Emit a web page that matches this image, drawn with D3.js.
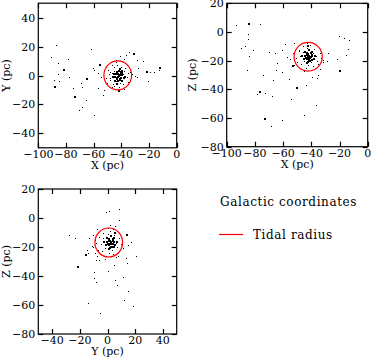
<!DOCTYPE html>
<html>
<head>
<meta charset="utf-8">
<title>Galactic coordinates</title>
<script src="https://d3js.org/d3.v7.min.js"></script>
<style>
  body { margin:0; background:#fff; }
  svg text { font-family:"DejaVu Serif", serif; font-size:11px; fill:#000; }
  svg text.legend { font-size:12px; letter-spacing:0.6px; }
  .frame { fill:none; stroke:#000; stroke-width:1.2px; }
  .tick { stroke:#000; stroke-width:1.2px; }
  .tidal { fill:none; stroke:#f00; stroke-width:1.2px; }
</style>
</head>
<body>
<svg id="chart" width="371" height="358"></svg>
<script>
"use strict";

// tidal radius (pc) and cluster centre
const tidalRadius = 10;
const centreXY = [-42.6, 0.1];
const centreXZ = [-42.2, -17.3];
const centreYZ = [0.9, -16.9];

// X-Y plane
const xyFaint = [
  [-87.5,21],[-91.1,12.5],[-85.6,8.4],[-78.3,11.2],[-86,1],[-88.7,-3.1],[-84.8,-3.6],
  [-77.6,-1.3],[-75.2,-8.9],[-69.2,-5.4],[-68.2,-8.2],[-65.6,-17],[-70.6,-23.9],[-68.2,-22],
  [-59.5,-27.4],[-62.2,18.1],[-59.5,3.8],[-60.7,5],[-57.1,2],[-54.7,-1.3],[-57.1,-8.4],
  [-52.3,-10],[-53.5,-13.5],[-50.6,-5],[-45.1,-7],[-43.9,10.7],[-36.7,14.1],[-34.3,16],
  [-38.1,11.4],[-41,13.5],[-29,10.7],[-27.7,5],[-24.1,10],[-19.3,2.7],[-16.4,2.7],
  [-12.6,3.8],[-20.5,-3.6],[-30.2,-0.3],[-32.6,1],[-33.8,2.7],[-29,-1.3],[-35,-4.3],
  [-48.2,-2],[-48.2,2.7],[-51.1,6.1],[-47,7.3],
  [-44,1],[-43,-1],[-41,2],[-45,3],[-40,-2],[-46,-1],[-42,4],[-39,1],[-44,-4],[-47,2],
  [-38,3],[-41,-5],[-45,6],[-36,-1],[-48,-3],[-43,7],[-39,-6],[-49,1],[-37,5],[-46,-6],
  [-35,2],[-42,-8],[-50,4],[-40,6],[-47,-8],[-34,-3],[-44,9],[-38,-9],[-51,-2],[-36,7]
];
const xyBright = [
  [-81.9,4.3],[-88.7,-7.3],[-74.2,-14.2],[-65.6,-1.5],[-55.9,8],[-42.2,-10],[-31.4,15.8],
  [-22.2,3],[-12.6,6.1],
  [-43,0],[-42,1],[-44,-1],[-41,-1],[-43,2],[-45,0],[-42,-2],[-40,1],[-44,3],[-41,3],
  [-46,2],[-43,-3],[-40,-3],[-45,-3],[-39,-1],[-42,5],[-47,0],[-38,0],[-44,-5],[-40,4],
  [-42.5,0.5],[-43.5,-1.5],[-41.5,-2.5],[-44.5,1.5],[-40.5,2.5],[-42.5,3.5]
];

// X-Z plane
const xzFaint = [
  [-93.4,4.9],[-76.4,5.6],[-84.7,-1.6],[-84.7,-5.1],[-89.9,-11.4],[-87.1,-9.8],[-81.1,-12.6],
  [-84,-16.8],[-85.9,-26.5],[-74,-30],[-78.8,-43.3],[-72.9,-42.8],[-67.7,-44.6],[-67,-33.5],
  [-65.3,-26.5],[-70,-14.2],[-64.6,-21.4],[-61,-27.7],[-60.6,-12.6],[-57.5,-17.2],[-55.9,-33],
  [-54.4,-47],[-52.3,-7.5],[-48.8,-12.6],[-44,-37.2],[-45,-57.9],[-36.9,-51.2],[-68.6,-65.6],
  [-61,-61.4],[-36.2,-31.9],[-39.8,-31.2],[-35,-30],[-33.9,-26],[-27.9,-14.4],[-29.1,-20.2],
  [-31.5,-19.5],[-22,-18.8],[-20.4,-2.6],[-16.6,-4],[-13.1,-5.6],[-15.4,-16],[-13.8,-12.1],
  [-58.7,-8.4],[-65.8,-14.9],
  [-44,-16],[-41,-18],[-46,-14],[-39,-15],[-45,-20],[-40,-21],[-48,-17],[-37,-17],[-43,-11],
  [-42,-23],[-49,-13],[-36,-20],[-47,-22],[-38,-12],[-44,-25],[-51,-18],[-34,-15],[-41,-9],
  [-50,-21],[-35,-22],[-46,-10],[-39,-24],[-53,-15],[-33,-18],[-45,-27],[-52,-23],[-32,-21],
  [-43,-8],[-55,-19],[-38,-26]
];
const xzBright = [
  [-85.2,6],[-77.1,-40.9],[-51.1,-38.1],[-73.3,-59.8],[-20.4,-26.5],[-43.3,-9.1],[-53.5,-23],
  [-43,-17],[-42,-16],[-44,-18],[-41,-17],[-43,-15],[-45,-16],[-42,-19],[-40,-16],[-44,-14],
  [-41,-14],[-46,-18],[-43,-20],[-40,-19],[-45,-13],[-39,-18],[-42,-12],[-47,-16],[-38,-16],
  [-44,-21],[-40,-13],
  [-42.5,-17.5],[-43.5,-15.5],[-41.5,-19.5],[-44.5,-17.5],[-40.5,-15.5]
];

// Y-Z plane
const yzFaint = [
  [0.9,5.1],[8.1,6],[-1,3.9],[8.5,-1.4],[1.8,-4.8],[5.4,-5.5],[3.7,-7.6],[-7.9,-7.8],
  [-27.6,-11.7],[-23.5,-14],[-13.2,-14],[-10.3,-11.7],[16.7,-16.3],[15,-18.6],[-10.7,-19.8],
  [-14.6,-22.1],[-13.9,-24.4],[-8.6,-29],[-5.9,-29],[-7.9,-26.2],[13.3,-27.8],[14.3,-30.8],
  [20.6,-26.2],[4.7,-32.4],[0.1,-36.3],[-9.5,-37],[-9.5,-41.6],[-8.3,-43.9],[5.4,-42.8],
  [10.9,-40.5],[6.6,-46.2],[15,-50.4],[12.1,-56.6],[18.6,-60.7],[-5.4,-65.3],[-13.9,-58.9],
  [7.8,-26.2],
  [-1,-16],[2,-19],[-3,-14],[4,-15],[-2,-21],[3,-22],[-5,-18],[6,-17],[0,-11],[1,-24],
  [-6,-13],[7,-20],[-4,-23],[5,-12],[-1,-26],[-8,-17],[8,-14],[2,-9],[-7,-22],[9,-22],
  [-3,-10],[4,-25],[-9,-15],[10,-18],[-2,-28],[-9,-24],[11,-21],[0,-7],[-11,-19],[6,-27]
];
const yzBright = [
  [4.7,-9.4],[13.3,-11],[-16.3,-24.6],[-21.8,-33.1],
  [1,-17],[2,-16],[0,-18],[3,-17],[1,-15],[-1,-16],[2,-19],[4,-16],[0,-14],[3,-14],
  [-2,-18],[1,-20],[4,-19],[-1,-13],[5,-18],[2,-12],[-3,-16],[6,-16],[0,-21],[4,-13],
  [1.5,-17.5],[0.5,-15.5],[2.5,-19.5],[-0.5,-17.5],[3.5,-15.5]
];

const tickValsX1 = [-100,-80,-60,-40,-20,0];
const tickValsY1 = [-40,-20,0,20,40];
const tickValsZ = [-80,-60,-40,-20,0,20];
const tickValsY3 = [-40,-20,0,20,40];

const legendTitle = "Galactic coordinates";
const legendLabel = "Tidal radius";

const svg = d3.select("#chart");
const fmt = v => (v < 0 ? "\u2212" + Math.abs(v) : String(v));

function panel(o) {
  const x = d3.scaleLinear().domain(o.xDomain).range([o.left, o.right]);
  const y = d3.scaleLinear().domain(o.yDomain).range([o.bottom, o.top]);
  const g = svg.append("g");
  const tl = 5;

  g.append("rect").attr("class", "frame")
    .attr("x", o.left).attr("y", o.top)
    .attr("width", o.right - o.left).attr("height", o.bottom - o.top);

  // inward ticks on all four sides
  o.xTicks.forEach(v => {
    const px = Math.round(x(v)) + 0.5;
    g.append("line").attr("class", "tick").attr("x1", px).attr("x2", px)
      .attr("y1", o.bottom).attr("y2", o.bottom - tl);
    g.append("line").attr("class", "tick").attr("x1", px).attr("x2", px)
      .attr("y1", o.top).attr("y2", o.top + tl);
    g.append("text").attr("x", x(v)).attr("y", o.bottom + 10)
      .attr("text-anchor", "middle").text(fmt(v));
  });
  o.yTicks.forEach(v => {
    const py = Math.round(y(v)) + 0.5;
    g.append("line").attr("class", "tick").attr("y1", py).attr("y2", py)
      .attr("x1", o.left).attr("x2", o.left + tl);
    g.append("line").attr("class", "tick").attr("y1", py).attr("y2", py)
      .attr("x1", o.right).attr("x2", o.right - tl);
    g.append("text").attr("x", o.left - 3).attr("y", y(v) + 4)
      .attr("text-anchor", "end").text(fmt(v));
  });

  g.append("text").attr("x", (o.left + o.right) / 2).attr("y", o.bottom + 21)
    .attr("text-anchor", "middle").text(o.xLabel);
  g.append("text")
    .attr("transform", `translate(${o.yLabelX},${(o.top + o.bottom) / 2}) rotate(-90)`)
    .attr("text-anchor", "middle").text(o.yLabel);

  g.selectAll("rect.faint").data(o.faint).enter().append("rect")
    .attr("class", "faint")
    .attr("x", d => Math.round(x(d[0]))).attr("y", d => Math.round(y(d[1])))
    .attr("width", 1).attr("height", 1).attr("fill", "#000");
  g.selectAll("rect.bright").data(o.bright).enter().append("rect")
    .attr("class", "bright")
    .attr("x", d => Math.round(x(d[0]))).attr("y", d => Math.round(y(d[1])))
    .attr("width", 2).attr("height", 2).attr("fill", "#000");

  g.append("ellipse").attr("class", "tidal")
    .attr("cx", x(o.centre[0])).attr("cy", y(o.centre[1]))
    .attr("rx", x(tidalRadius) - x(0)).attr("ry", y(0) - y(tidalRadius));
}

panel({
  left: 38.3, right: 176.7, top: 3.2, bottom: 147.8,
  xDomain: [-100, 0], yDomain: [-50, 50],
  xTicks: tickValsX1, yTicks: tickValsY1,
  xLabel: "X (pc)", yLabel: "Y (pc)", yLabelX: 10,
  faint: xyFaint, bright: xyBright, centre: centreXY
});

panel({
  left: 226.7, right: 367.7, top: 3.3, bottom: 146.7,
  xDomain: [-100, 0], yDomain: [-80, 20],
  xTicks: tickValsX1, yTicks: tickValsZ,
  xLabel: "X (pc)", yLabel: "Z (pc)", yLabelX: 196,
  faint: xzFaint, bright: xzBright, centre: centreXZ
});

panel({
  left: 38.3, right: 176.7, top: 189, bottom: 334,
  xDomain: [-50, 50], yDomain: [-80, 20],
  xTicks: tickValsY3, yTicks: tickValsZ,
  xLabel: "Y (pc)", yLabel: "Z (pc)", yLabelX: 10,
  faint: yzFaint, bright: yzBright, centre: centreYZ
});

// legend
svg.append("text").attr("class", "legend").attr("x", 220).attr("y", 206).text(legendTitle);
svg.append("line").attr("x1", 219).attr("x2", 243).attr("y1", 234.5).attr("y2", 234.5)
  .attr("stroke", "#f00").attr("stroke-width", 1.2);
svg.append("text").attr("class", "legend").attr("x", 253).attr("y", 238.5).text(legendLabel);
</script>
</body>
</html>
